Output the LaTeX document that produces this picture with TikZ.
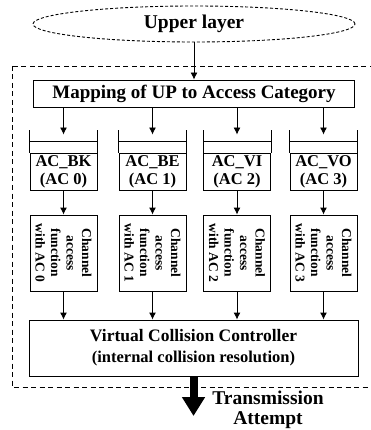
\documentclass[tikz,border=0pt]{standalone}
\usepackage{fontspec}
\setmainfont{Liberation Serif}
\usetikzlibrary{positioning, arrows.meta, shapes.geometric}

\begin{document}
\begin{tikzpicture}[x=1pt, y=-1pt, line width=0.9pt, >={Latex[length=7pt,width=7pt]},
		box/.style={draw, rectangle, inner sep=0pt, font=\bfseries},
		acbox/.style={box, minimum width=67pt, minimum height=37pt, align=center, font=\bfseries\fontsize{16.5}{18}\selectfont},
		chbox/.style={box, rotate=-90, minimum width=76pt, minimum height=67pt, align=center, font=\bfseries\fontsize{13.5}{15.5}\selectfont},
		frame/.style={dash pattern=on 5pt off 3.5pt}]
				\useasboundingbox (0,0) rectangle (371,430);
				
				\node[draw, ellipse, dash pattern=on 3pt off 2pt, minimum width=322pt, minimum height=36pt, font=\bfseries\fontsize{19.5}{22}\selectfont] (upper) at (194,24) {Upper layer};
				\draw[frame] (12,66) rectangle (378,387);
				\node[box, minimum width=321pt, minimum height=27pt, font=\bfseries\fontsize{19}{21}\selectfont] (map) at (194,93.5) {Mapping of UP to Access Category};
				
				\node[acbox] (bk) at (63.5,171.5) {AC\_BK\\(AC 0)};
				\node[acbox] (be) at (152.5,171.5) {AC\_BE\\(AC 1)};
				\node[acbox] (vi) at (237,171.5) {AC\_VI\\(AC 2)};
				\node[acbox] (vo) at (323.5,171.5) {AC\_VO\\(AC 3)};
				
				\node[chbox] (chbk) at (63.5,253) {Channel\\access\\function\\with AC 0};
				\node[chbox] (chbe) at (152.5,253) {Channel\\access\\function\\with AC 1};
				\node[chbox] (chvi) at (237,253) {Channel\\access\\function\\with AC 2};
				\node[chbox] (chvo) at (323.5,253) {Channel\\access\\function\\with AC 3};
				
				\node[box, minimum width=329pt, minimum height=56pt, align=center, font=\bfseries\fontsize{17.5}{21}\selectfont] (vcc) at (193.5,348) {Virtual Collision Controller\\{\fontsize{16.5}{21}\selectfont (internal collision resolution)}};
				
				\coordinate (att) at (193.5,416);
				\node[font=\bfseries\fontsize{19.5}{20}\selectfont, align=center] (tx) at (268,410) {Transmission\\Attempt};
				
				\draw (bk.north west) -- ++(0,-23) (bk.north east) -- ++(0,-23) ([yshift=11pt]bk.north west) -- ([yshift=11pt]bk.north east);
				\draw (be.north west) -- ++(0,-23) (be.north east) -- ++(0,-23) ([yshift=11pt]be.north west) -- ([yshift=11pt]be.north east);
				\draw (vi.north west) -- ++(0,-23) (vi.north east) -- ++(0,-23) ([yshift=11pt]vi.north west) -- ([yshift=11pt]vi.north east);
				\draw (vo.north west) -- ++(0,-23) (vo.north east) -- ++(0,-23) ([yshift=11pt]vo.north west) -- ([yshift=11pt]vo.north east);
				
				\draw[->] (upper) -- (map);
				\draw[->] (bk.north |- map.south) -- ([yshift=18pt]bk.north);
				\draw[->] (be.north |- map.south) -- ([yshift=18pt]be.north);
				\draw[->] (vi.north |- map.south) -- ([yshift=18pt]vi.north);
				\draw[->] (vo.north |- map.south) -- ([yshift=18pt]vo.north);
				
				\draw[->] (bk) -- (chbk);
				\draw[->] (be) -- (chbe);
				\draw[->] (vi) -- (chvi);
				\draw[->] (vo) -- (chvo);
				
				\draw[->] (chbk) -- (chbk |- vcc.north);
				\draw[->] (chbe) -- (chbe |- vcc.north);
				\draw[->] (chvi) -- (chvi |- vcc.north);
				\draw[->] (chvo) -- (chvo |- vcc.north);
				
				\draw[line width=8pt, -{Triangle[length=19pt,width=22pt]}] (vcc) -- (att);
			\end{tikzpicture}
\end{document}
